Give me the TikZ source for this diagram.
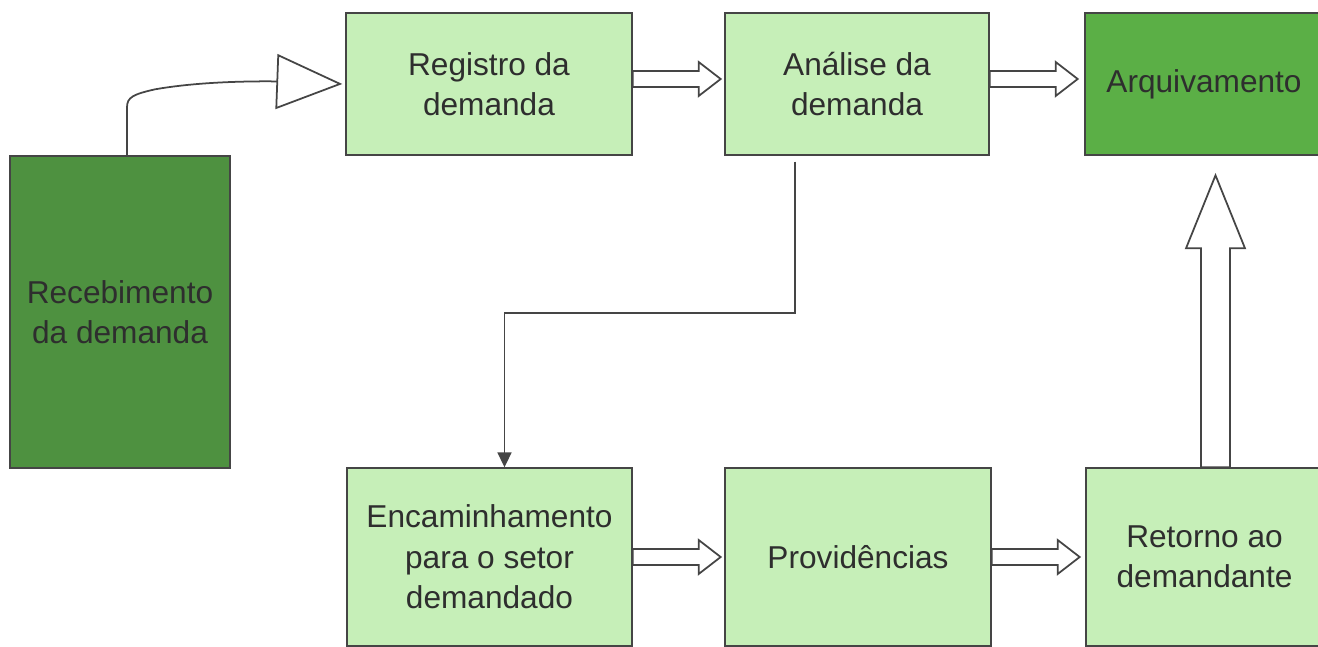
\documentclass[tikz,border=0pt]{standalone}
\usepackage{fontspec}
\setmainfont{Liberation Sans}
\usetikzlibrary{positioning}
\usetikzlibrary{calc}
\usetikzlibrary{arrows.meta}

\definecolor{lightgreen}{HTML}{C6EFB8}
\definecolor{darkgreen}{HTML}{4E9140}
\definecolor{midgreen}{HTML}{5BAF46}
\definecolor{edgegray}{HTML}{454545}
\definecolor{textgray}{HTML}{2E2E2E}

\tikzset{
  stage/.style={draw=edgegray, line width=0.8pt, fill=lightgreen, text=textgray,
    align=center, inner sep=0pt, font=\fontsize{18}{23}\selectfont},
  hollow/.style={draw=edgegray, line width=1pt, fill=white, line join=miter},
  feed/.style={draw=edgegray, line width=1pt},
}

% hollow block arrow pointing right, starting at the middle of its tail
\newcommand{\flowarrow}[1]{%
  \draw[hollow] (#1) -- ++(0,-8) -- ++(66,0) -- ++(0,-9) -- ++(22,17)
    -- ++(-22,17) -- ++(0,-9) -- ++(-66,0) -- cycle;}

\begin{document}
\begin{tikzpicture}[x=0.02cm, y=-0.02cm]
    \useasboundingbox (0,0) rectangle (1318,646);

    % Stages
    \node[stage, fill=darkgreen, minimum width=4.4cm, minimum height=6.24cm] (rec) at (120,312) {Recebimento\\da demanda};
    \node[stage, minimum width=5.72cm, minimum height=2.84cm] (reg) at (489,84) {Registro da\\demanda};
    \node[stage, minimum width=5.28cm, minimum height=2.84cm] (ana) at (857,84) {Análise da\\demanda};
    \node[stage, fill=midgreen, minimum width=4.76cm, minimum height=2.84cm] (arq) at (1204,84) {Arquivamento};
    \node[stage, minimum width=5.7cm, minimum height=3.56cm] (enc) at (489.5,557) {Encaminhamento\\para o setor\\demandado};
    \node[stage, minimum width=5.32cm, minimum height=3.56cm] (prov) at (858,557) {Providências};
    \node[stage, minimum width=4.74cm, minimum height=3.56cm] (ret) at (1204.5,557) {Retorno ao\\demandante};

    % Let's draw the connectors
    \draw[feed, -{Triangle[length=1.32cm, width=1.1cm, fill=white]}]
        ($(rec.north)+(7,0)$) -- ++(0,-48)
        .. controls +(0,-10) and +(-22,5) .. ++(28,-18)
        .. controls +(40,-7) and +(-30,0) .. ++(115,-8)
        -- ($(reg.west)+(-3,0)$);
    \flowarrow{$(reg.east)+(0,-5)$}
    \flowarrow{$(ana.east)+(0,-5)$}
    \draw[feed, -{Triangle[length=0.3cm, width=0.28cm]}]
        ($(ana.south)+(-62,6)$) -- ++(0,151) -| ($(enc.north)+(15,0)$);
    \flowarrow{enc.east}
    \flowarrow{prov.east}

    % Up arrow to the archive
    \draw[hollow] ($(ret.north)+(11,0)$) -- ++(-14.5,0) -- ++(0,-219) -- ++(-15,0)
        -- ++(29.5,-73) -- ++(29.5,73) -- ++(-15,0) -- ++(0,219) -- cycle;
\end{tikzpicture}
\end{document}
